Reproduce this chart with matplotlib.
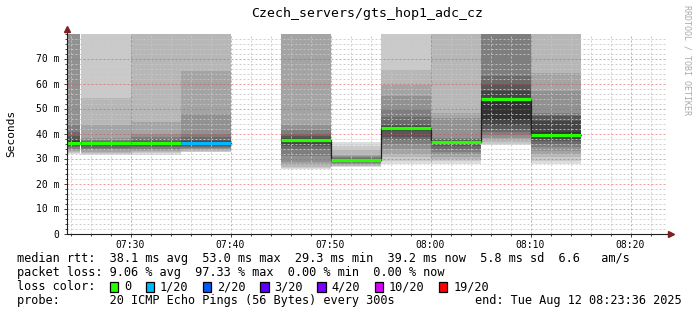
import numpy as np
import matplotlib
matplotlib.use("Agg")
import matplotlib.pyplot as plt
from matplotlib.patches import Rectangle

INF = np.inf

# ---------------- data ----------------
title = "Czech_servers/gts_hop1_adc_cz"
y_label = "Seconds"
watermark = "RRDTOOL / TOBI OETIKER"

view_start = "07:23:36"
view_end = "08:23:36"
slot_minutes = 5
slot_starts = ["07:20", "07:25", "07:30", "07:35", "07:40", "07:45",
               "07:50", "07:55", "08:00", "08:05", "08:10"]

# 20 sorted ping rtts (ms) per 5-minute slot; INF = above the graph top; None = no data
pings = [
    [32.0, 32.4, 32.7, 33.0, 33.5, 34.0, 34.5, 35.0, 35.5, 36.0, 37.0, 38.0, 39.0, 40.6, 43.3, INF, INF, INF, INF, INF],
    [31.3, 31.8, 32.3, 32.8, 33.3, 33.8, 34.3, 35.0, 35.5, 36.0, 36.4, 36.6, 36.8, 37.0, 37.5, 38.1, 43.3, 54.2, INF, INF],
    [31.3, 32.2, 32.5, 33.0, 33.5, 34.0, 34.5, 35.0, 35.6, 36.1, 36.5, 36.8, 37.2, 37.8, 38.5, 40.0, 44.7, INF, INF, INF],
    [32.6, 32.8, 33.0, 33.4, 33.8, 34.2, 34.6, 35.0, 35.5, 36.0, 36.5, 37.0, 37.5, 38.5, 40.0, 47.7, 65.0, INF, INF, INF],
    None,
    [25.7, 26.2, 26.8, 27.5, 28.7, 31.0, 34.0, 35.0, 36.0, 37.0, 37.6, 38.2, 39.0, 40.0, 41.3, 43.3, INF, INF, INF, INF],
    [26.6, 26.9, 27.2, 27.6, 28.0, 28.4, 28.6, 28.8, 29.0, 29.2, 29.5, 29.7, 29.9, 30.2, 30.6, 31.0, 31.6, 33.3, 35.0, 36.7],
    [28.0, 29.0, 30.5, 32.0, 34.0, 36.0, 37.5, 38.7, 41.0, 42.1, 42.5, 42.9, 43.3, 46.7, 49.3, 54.9, 59.6, 65.3, INF, INF],
    [28.0, 28.9, 29.8, 30.7, 31.8, 32.8, 34.0, 35.0, 35.8, 36.4, 36.8, 37.1, 37.4, 37.8, 38.3, 46.3, 48.4, INF, INF, INF],
    [35.3, 35.8, 36.5, 37.3, 38.4, 39.5, 40.6, 42.0, 43.3, 45.3, 54.0, 57.0, 60.0, 63.0, INF, INF, INF, INF, INF, INF],
    [28.0, 29.0, 30.5, 32.0, 33.0, 34.5, 36.0, 37.0, 38.0, 38.9, 40.5, 45.0, 47.0, 47.5, 48.4, 57.0, 64.4, INF, INF, INF],
]
medians = [36.4, 36.2, 36.3, 36.2, None, 37.3, 29.3, 42.3, 36.6, 53.7, 39.4]
losses = [0, 0, 0, 1, None, 0, 0, 0, 0, 0, 0]

loss_levels = [0, 1, 2, 3, 4, 10, 19]
loss_colors = ["#26ff00", "#00b8ff", "#0059ff", "#5e00ff", "#7e00ff", "#dd00ff", "#ff0000"]
loss_labels = ["0", "1/20", "2/20", "3/20", "4/20", "10/20", "19/20"]

y_max = 80
y_ticks = [0, 10, 20, 30, 40, 50, 60, 70]
y_tick_labels = ["0", "10 m", "20 m", "30 m", "40 m", "50 m", "60 m", "70 m"]
x_tick_labels = ["07:30", "07:40", "07:50", "08:00", "08:10", "08:20"]

rtt_line = "median rtt:  38.1 ms avg  53.0 ms max  29.3 ms min  39.2 ms now  5.8 ms sd  6.6   am/s"
loss_line = "packet loss: 9.06 % avg  97.33 % max  0.00 % min  0.00 % now"
color_title = "loss color:"
probe_line = "probe:       20 ICMP Echo Pings (56 Bytes) every 300s"
end_text = "end: Tue Aug 12 08:23:36 2025"


# ---------------- helpers ----------------
def to_min(s):
    parts = [int(p) for p in s.split(":")]
    h, m = parts[0], parts[1]
    sec = parts[2] if len(parts) > 2 else 0
    return (h - 7) * 60 + m + sec / 60.0


def smoke_gray(ibot, half=10):
    v = int(190 / half * (half - ibot)) + 50
    return "#%02x%02x%02x" % (v, v, v)


def loss_color(n):
    for lv, c in zip(loss_levels, loss_colors):
        if n <= lv:
            return c
    return loss_colors[-1]


W, H = 697, 315
MONO = "DejaVu Sans Mono"
fig = plt.figure(figsize=(W / 100, H / 100), dpi=100)
fig.patch.set_facecolor("white")

ax_left, ax_right, ax_bottom, ax_top = 66.5, 666.5, 233.5, 33.5
ax = fig.add_axes([ax_left / W, (H - ax_bottom) / H, (ax_right - ax_left) / W,
                   (ax_bottom - ax_top) / H])
x0v, x1v = to_min(view_start), to_min(view_end)
ax.set_xlim(x0v, x1v)
ax.set_ylim(0, y_max)
ax.set_facecolor("white")

# smoke
for start, p in zip(slot_starts, pings):
    if p is None:
        continue
    xs = to_min(start)
    n = len(p)
    for k in range(n - 1):
        lo, hi = p[k], p[k + 1]
        if np.isinf(lo):
            continue
        hi = min(hi, y_max)
        if hi <= lo:
            continue
        ibot = min(k + 1, n - 1 - k)
        ax.bar(xs, hi - lo, bottom=lo, width=slot_minutes, align="edge",
               color=smoke_gray(ibot), linewidth=0, antialiased=False, zorder=1)

# grid (dotted, drawn over the smoke like rrdtool)
minor_c = (0.78, 0.78, 0.78, 0.85)
major_c = (0.87, 0.31, 0.31, 0.55)
dash = (0, (2, 2))
for xm in np.arange(24, 84, 2):
    is_major = (xm % 10 == 0)
    ax.axvline(xm, color=major_c if is_major else minor_c, lw=0.72, ls=dash, zorder=2)
for ym in np.arange(2, y_max, 2):
    is_major = (ym % 10 == 0)
    ax.axhline(ym, color=major_c if is_major else minor_c, lw=0.72, ls=dash, zorder=2)

# median: thin dark step line and loss-coloured band
sx, sy = [], []
for start, med in zip(slot_starts, medians):
    sx.append(to_min(start))
    sy.append(np.nan if med is None else med)
sx.append(to_min(slot_starts[-1]) + slot_minutes)
sy.append(sy[-1])
ax.step(sx, sy, where="post", color="#202020", lw=0.9, zorder=3)
for start, med, ls_ in zip(slot_starts, medians, losses):
    if med is None:
        continue
    xs = to_min(start)
    ax.hlines(med, xs, xs + slot_minutes, color=loss_color(ls_), lw=2.3, zorder=4,
              capstyle="butt")

# axes styling
for s in ["top", "right"]:
    ax.spines[s].set_visible(False)
for s in ["left", "bottom"]:
    ax.spines[s].set_color("#1f1f1f")
    ax.spines[s].set_linewidth(0.8)
    ax.spines[s].set_zorder(5)

ax.set_yticks(y_ticks)
ax.set_yticklabels(y_tick_labels, fontfamily=MONO, fontsize=7)
ax.set_yticks(np.arange(0, y_max + 1, 2), minor=True)
xt = [to_min(t) for t in x_tick_labels]
ax.set_xticks(xt)
ax.set_xticklabels(x_tick_labels, fontfamily=MONO, fontsize=7)
ax.set_xticks(np.arange(24, 84, 2), minor=True)
ax.tick_params(which="major", direction="out", length=2.5, width=0.7, color="#404040", pad=2.5)
ax.tick_params(which="minor", direction="out", length=1.6, width=0.7, color="#404040")

# arrows
arrow_c = "#801f1f"
ax.plot([0, 0], [1.0, 1.02], transform=ax.transAxes, color="#1f1f1f", lw=0.8, clip_on=False, zorder=5)
ax.plot([0], [1.025], transform=ax.transAxes, marker="^", ms=5, color=arrow_c, clip_on=False, zorder=6)
ax.plot([1.0, 1.006], [0, 0], transform=ax.transAxes, color="#1f1f1f", lw=0.8, clip_on=False, zorder=5)
ax.plot([1.008], [0], transform=ax.transAxes, marker=">", ms=5, color=arrow_c, clip_on=False, zorder=6)


def ftext(x, y, s, **kw):
    fig.text(x / W, 1 - y / H, s, **kw)


ftext(367, 14, title, ha="center", va="center", fontfamily=MONO, fontsize=9.5)
ftext(11, 133, y_label, ha="center", va="center", rotation=90, fontfamily=MONO, fontsize=8)
ftext(687, 60, watermark, ha="center", va="center", rotation=-90, fontfamily=MONO,
      fontsize=6, color="#aaaaaa")

# legend
cw = 7.15
lx = 17
fs_leg = cw / 0.602 * 0.72
rows = [258.5, 272.5, 286.5, 300.5]
ftext(lx, rows[0], rtt_line, ha="left", va="center", fontfamily=MONO, fontsize=fs_leg)
ftext(lx, rows[1], loss_line, ha="left", va="center", fontfamily=MONO, fontsize=fs_leg)
ftext(lx, rows[2], color_title, ha="left", va="center", fontfamily=MONO, fontsize=fs_leg)
col = 13
for c, lab in zip(loss_colors, loss_labels):
    bx = lx + col * cw
    fig.patches.append(Rectangle((bx / W, 1 - (rows[2] + 5) / H), 8.5 / W, 10 / H,
                                 transform=fig.transFigure, facecolor=c,
                                 edgecolor="black", linewidth=0.9))
    ftext(lx + (col + 2) * cw, rows[2], lab, ha="left", va="center", fontfamily=MONO,
          fontsize=fs_leg)
    col += 2 + len(lab) + 2
ftext(lx, rows[3], probe_line, ha="left", va="center", fontfamily=MONO, fontsize=fs_leg)
ftext(682, rows[3], end_text, ha="right", va="center", fontfamily=MONO, fontsize=fs_leg)

fig.savefig("out.png", dpi=100, facecolor="white")
